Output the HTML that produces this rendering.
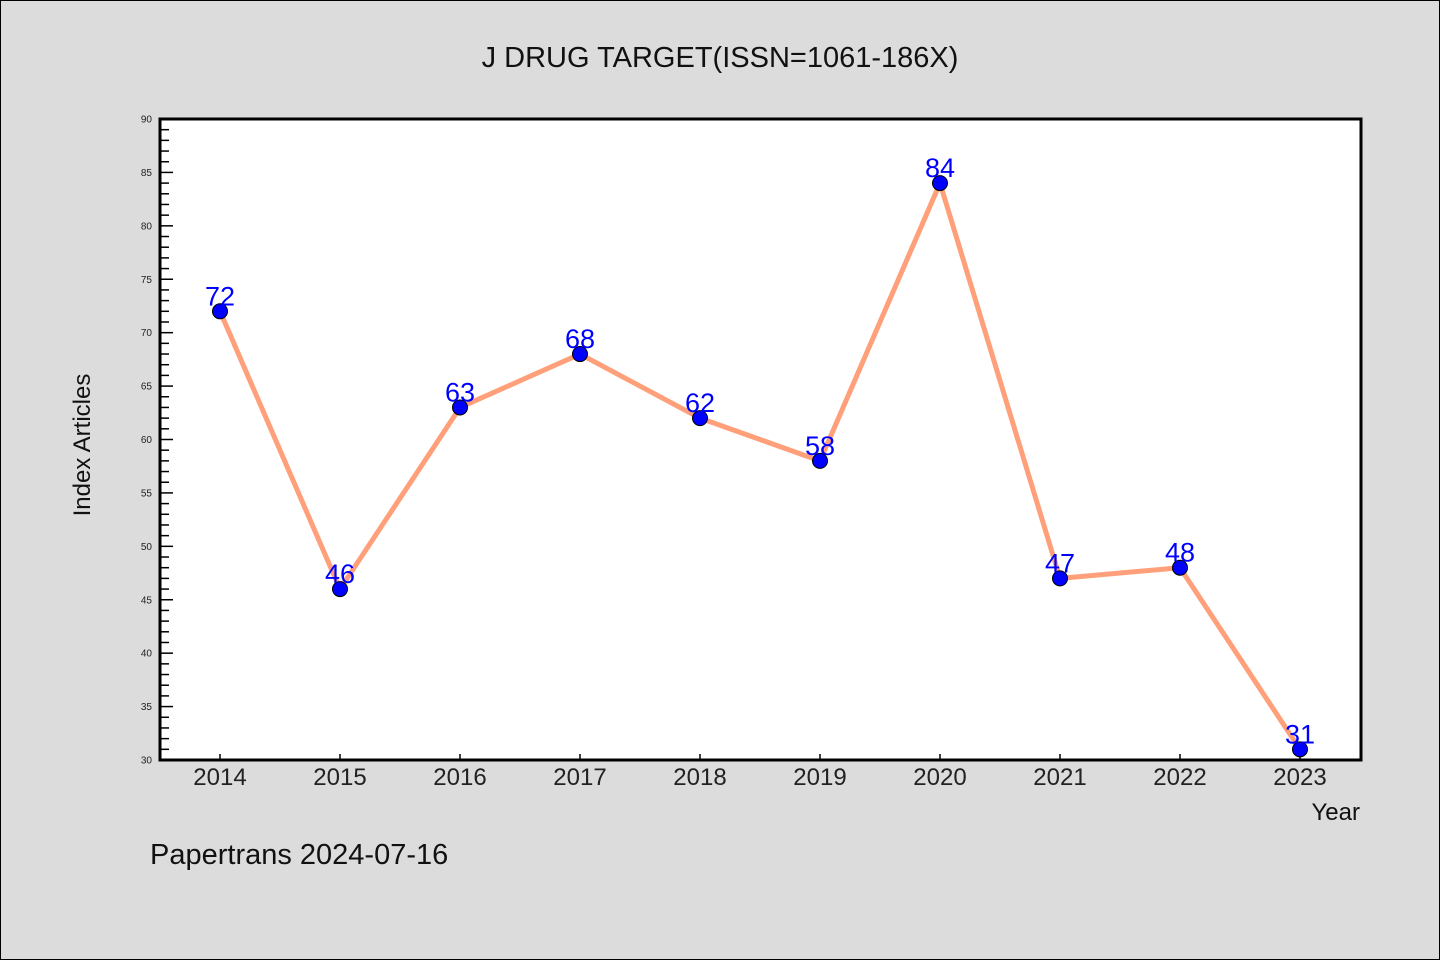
<!DOCTYPE html>
<html><head><meta charset="utf-8"><style>
html,body{margin:0;padding:0;background:#dcdcdc;}
svg{display:block;font-family:"WenQuanYi Zen Hei","Liberation Sans",sans-serif;}
</style></head><body>
<svg id="c" width="1440" height="960" viewBox="0 0 1440 960">
<rect x="0.5" y="0.5" width="1439" height="959" fill="#dcdcdc" stroke="#000" stroke-width="1"/>
<text x="720" y="67" text-anchor="middle" font-size="29" fill="#111">J DRUG TARGET(ISSN=1061-186X)</text>
<rect x="160" y="119" width="1201" height="641" fill="#fff"/>
<g id="ticks"></g>
<g id="series"></g>
<rect x="160" y="119" width="1201" height="641" fill="none" stroke="#000" stroke-width="3"/>
<text x="90" y="445" text-anchor="middle" font-size="24" fill="#111" transform="rotate(-90 90 445)">Index Articles</text>
<text x="1360" y="820" text-anchor="end" font-size="24" fill="#111">Year</text>
<text x="150" y="864" font-size="29" fill="#111">Papertrans 2024-07-16</text>
</svg>
<script>
const years = ["2014","2015","2016","2017","2018","2019","2020","2021","2022","2023"];
const values = [72,46,63,68,62,58,84,47,48,31];
const yMin = 30, yMax = 90;
const NS="http://www.w3.org/2000/svg";
const L=160,R=1361,T=119,B=760;
function xs(i){return 220+i*120;}
function ys(v){return B-(v-yMin)/(yMax-yMin)*(B-T);}
function mk(tag,attrs,parent){const e=document.createElementNS(NS,tag);for(const k in attrs)e.setAttribute(k,attrs[k]);parent.appendChild(e);return e;}
const tk=document.getElementById('ticks');
for(let v=yMin;v<=yMax;v++){
  const major=v%5===0;const y=ys(v);
  const ln=mk('line',{x1:L,x2:L+(major?13:9),y1:y,y2:y,stroke:'#000','stroke-width':1.5},tk);
  
  
  if(major){const t=mk('text',{x:152,y:y+3.5,'text-anchor':'end','font-size':10,fill:'#222'},tk);t.textContent=v;
    
    }
}
years.forEach((yr,i)=>{
  const x=xs(i);
  const ln=mk('line',{x1:x,x2:x,y1:B,y2:B-6,stroke:'#000','stroke-width':1.5},tk);
  
  
  const t=mk('text',{x:x,y:785,'text-anchor':'middle','font-size':24,fill:'#222'},tk);t.textContent=yr;
  
  
});
const sg=document.getElementById('series');
const pts=values.map((v,i)=>xs(i)+','+ys(v)).join(' ');
const pl=mk('polyline',{points:pts,fill:'none',stroke:'#ffa07a','stroke-width':5,'stroke-linejoin':'round'},sg);


values.forEach((v,i)=>{
  const c=mk('circle',{cx:xs(i),cy:ys(v),r:7.5,fill:'#0000ff',stroke:'#000','stroke-width':1},sg);
  
  
  const t=mk('text',{x:xs(i),y:ys(v)-6,'text-anchor':'middle','font-size':27,fill:'#0000ff'},sg);t.textContent=v;
  
  
});
</script>
</body></html>
